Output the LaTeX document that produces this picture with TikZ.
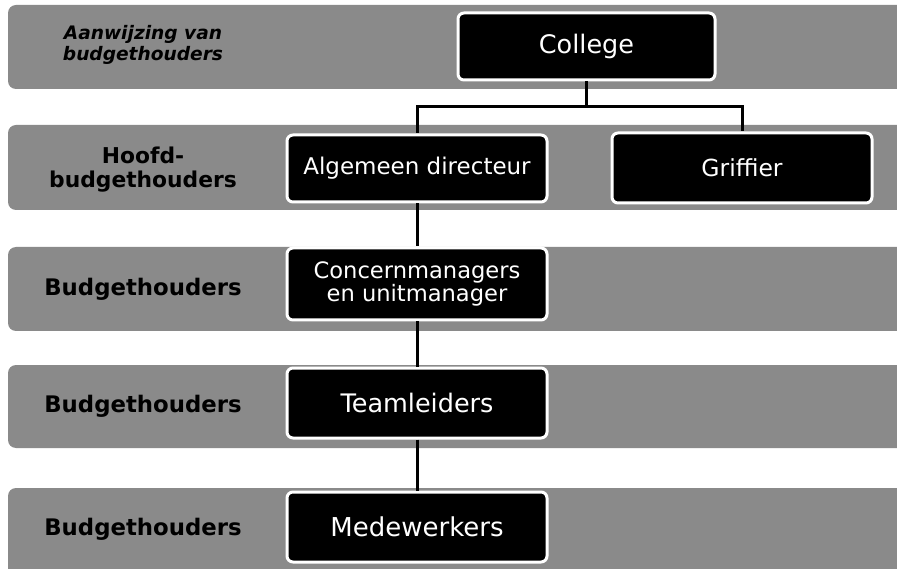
\documentclass[tikz,border=0pt]{standalone}
\usepackage{fontspec}
\setmainfont{DejaVu Sans}
\definecolor{bandgray}{rgb}{0.54,0.54,0.54}
\pgfdeclarelayer{bg}
\pgfsetlayers{bg,main}
\tikzset{
  band/.style={fill=bandgray, rounded corners=8pt},
  box/.style={draw=white, fill=black, line width=3pt, rounded corners=6pt,
    text=white, align=center, inner sep=0pt, minimum width=257pt, minimum height=67pt},
  lbl/.style={text=black, align=center, inner sep=0pt, font=\bfseries\fontsize{22.8}{23.5}\selectfont},
  conn/.style={draw=black, line width=3pt}
}
\begin{document}
\begin{tikzpicture}[x=1pt,y=-1pt]
\useasboundingbox (0,0) rectangle (897,569);
\clip (0,0) rectangle (897,569);
% bands
\fill[band] (8,5) rectangle (910,89);
\fill[band] (8,125) rectangle (910,210);
\fill[band] (8,247) rectangle (910,331);
\fill[band] (8,365) rectangle (910,448);
\fill[band] (8,488) rectangle (910,590);
% labels
\node[lbl, font=\bfseries\itshape\fontsize{18.6}{21}\selectfont] (l1) at (143,45) {Aanwijzing van\\budgethouders};
\node[lbl, font=\bfseries\fontsize{21.8}{24}\selectfont] (l2) at (143,170) {Hoofd-\\budgethouders};
\node[lbl] (l3) at (143,289) {Budgethouders};
\node[lbl] (l4) at (143,406) {Budgethouders};
\node[lbl] (l5) at (143,529) {Budgethouders};
% boxes
\node[box, font=\fontsize{25.5}{27}\selectfont] (college) at (586.5,46.5) {College};
\node[box, minimum width=260pt, font=\fontsize{23}{25}\selectfont] (alg) at (417,168.5) {Algemeen directeur};
\node[box, minimum width=260pt, minimum height=70pt, font=\fontsize{23.5}{25}\selectfont] (grif) at (742,168) {Griffier};
\node[box, minimum width=260pt, minimum height=72pt, font=\fontsize{22.6}{23.5}\selectfont] (conc) at (417,284) {Concernmanagers\\en unitmanager};
\node[box, minimum width=260pt, minimum height=70pt, font=\fontsize{25.5}{27}\selectfont] (team) at (417,403) {Teamleiders};
\node[box, minimum width=260pt, minimum height=70pt, font=\fontsize{26}{27}\selectfont] (mede) at (417,527) {Medewerkers};
% connectors
\coordinate (j) at (586.5,107);
\begin{pgfonlayer}{bg}
\end{pgfonlayer}
\draw[conn] (college.south) -- (j);
\draw[conn] (j) -| (alg.north);
\draw[conn] (j) -| (grif.north);
\draw[conn] (alg.south) -- (conc.north);
\draw[conn] (conc.south) -- (team.north);
\draw[conn] (team.south) -- (mede.north);
\end{tikzpicture}
\end{document}
